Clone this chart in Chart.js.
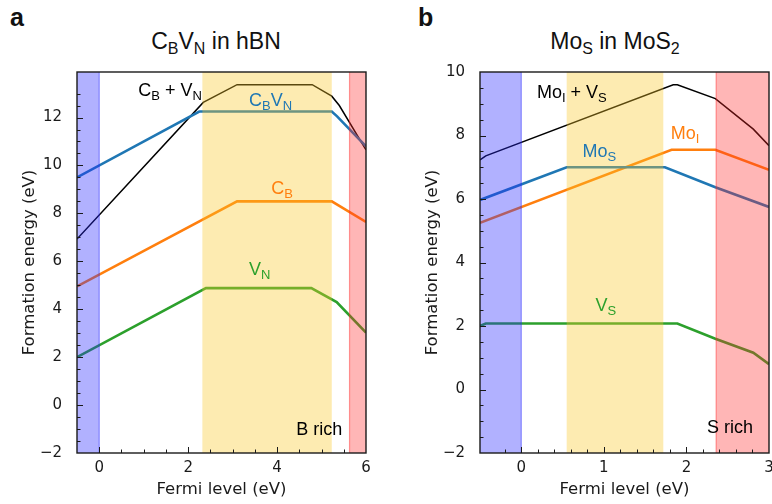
<!DOCTYPE html>
<html>
<head>
<meta charset="utf-8">
<script src="https://cdn.jsdelivr.net/npm/chart.js@4.4.0/dist/chart.umd.min.js"></script>
<style>
  body { margin: 0; width: 772px; height: 504px; overflow: hidden; background: #fff; position: relative;
         font-family: "Liberation Sans", Arial, sans-serif; color: #111; }
  .panel { position: absolute; top: 0; }
  .tag { position: absolute; top: 5px; font-weight: bold; font-size: 25px; line-height: 25px; }
  .ttl { position: absolute; top: 30px; font-size: 23px; line-height: 23px; text-align: center; white-space: nowrap; }
  .ttl span { font-size: 16px; position: relative; top: 5px; }
</style>
</head>
<body>
<div class="tag" style="left:10px">a</div>
<div class="tag" style="left:418px">b</div>
<div class="ttl" style="left:116px;width:200px">C<span>B</span>V<span>N</span> in hBN</div>
<div class="ttl" style="left:515px;width:200px">Mo<span>S</span> in MoS<span>2</span></div>
<canvas id="chartA" class="panel" style="left:0px" width="386" height="504"></canvas>
<canvas id="chartB" class="panel" style="left:386px" width="400" height="504"></canvas>
<script>
// ---- panel a : C_B V_N in hBN ----
const hbnCBVN_x = [-0.5, 2.25, 5.23, 5.35, 6];
const hbnCBVN_y = [9.5, 12.25, 12.25, 12.05, 10.8];
const hbnSum_x = [-0.5, 2.34, 3.1, 4.79, 5.23, 5.4, 6];
const hbnSum_y = [6.93, 12.63, 13.37, 13.37, 12.89, 12.5, 10.65];
const hbnCB_x = [-0.5, 3.1, 5.23, 6];
const hbnCB_y = [4.95, 8.5, 8.5, 7.64];
const hbnVN_x = [-0.5, 2.4, 4.77, 5.34, 6];
const hbnVN_y = [2.0, 4.88, 4.88, 4.3, 3.02];
const hbnBandFrom = [-0.5, 2.32, 5.63];
const hbnBandTo = [0, 5.23, 6];
const hbnLabelText = ['C_{B} + V_{N}', 'C_{B}V_{N}', 'C_{B}', 'V_{N}', 'B rich'];
const hbnLabelX = [0.88, 3.37, 3.87, 3.37, 4.43];
const hbnLabelY = [12.9, 12.5, 8.8, 5.44, -1.23];

// ---- panel b : Mo_S in MoS2 ----
const mosSum_x = [-0.5, -0.43, 1.84, 1.89, 2.35, 2.81, 3];
const mosSum_y = [7.23, 7.36, 9.6, 9.6, 9.16, 8.2, 7.68];
const mosMoS_x = [-0.5, 0.55, 1.74, 2.35, 3];
const mosMoS_y = [5.97, 7.0, 7.0, 6.37, 5.75];
const mosMoI_x = [-0.5, 1.82, 2.35, 3];
const mosMoI_y = [5.25, 7.55, 7.55, 6.92];
const mosVS_x = [-0.5, -0.43, 1.89, 2.35, 2.81, 3];
const mosVS_y = [2.0, 2.08, 2.08, 1.6, 1.16, 0.8];
const mosBandFrom = [-0.5, 0.55, 2.36];
const mosBandTo = [0, 1.72, 3];
const mosLabelText = ['Mo_{I} + V_{S}', 'Mo_{S}', 'Mo_{I}', 'V_{S}', 'S rich'];
const mosLabelX = [0.19, 0.74, 1.81, 0.9, 2.25];
const mosLabelY = [9.19, 7.31, 7.88, 2.46, -1.38];

// styles
const BLUE = '#1f77b4', ORANGE = '#ff7f0e', GREEN = '#2ca02c', BLACK = '#000';
const BAND_FILL = ['rgba(40,40,255,0.36)', 'rgba(250,200,40,0.36)', 'rgba(255,40,40,0.34)'];
const BAND_EDGE = ['rgba(40,40,255,0.45)', null, 'rgba(255,40,40,0.45)'];
const AXIS_COLOR = '#1a1a1a';

function pts(xs, ys) { return xs.map((x, i) => ({ x: x, y: ys[i] })); }

function series(label, xs, ys, color, width) {
  return { label: label, data: pts(xs, ys), borderColor: color, borderWidth: width,
           pointRadius: 0, tension: 0, fill: false };
}

// draw text like "C_{B} + V_{N}" with subscripts
function drawRich(ctx, text, x, y, color) {
  const parts = text.split(/(_\{[^}]*\})/).filter(s => s.length);
  let cx = x;
  ctx.fillStyle = color;
  ctx.textBaseline = 'alphabetic';
  ctx.textAlign = 'left';
  parts.forEach(p => {
    if (p.startsWith('_{')) {
      const s = p.slice(2, -1);
      ctx.font = '13px "Liberation Sans", Arial, sans-serif';
      ctx.fillText(s, cx, y + 4);
      cx += ctx.measureText(s).width;
    } else {
      ctx.font = '18px "Liberation Sans", Arial, sans-serif';
      ctx.fillText(p, cx, y);
      cx += ctx.measureText(p).width;
    }
  });
}

const decoPlugin = {
  id: 'deco',
  afterDatasetsDraw(chart, args, opts) {
    const { ctx, chartArea: a, scales: { x, y } } = chart;
    ctx.save();
    opts.bandFrom.forEach((f, i) => {
      const x0 = x.getPixelForValue(f), x1 = x.getPixelForValue(opts.bandTo[i]);
      ctx.fillStyle = BAND_FILL[i];
      ctx.fillRect(x0, a.top, x1 - x0, a.bottom - a.top);
      if (BAND_EDGE[i]) {
        ctx.strokeStyle = BAND_EDGE[i];
        ctx.lineWidth = 1.2;
        const ex = i === 0 ? x1 : x0;
        ctx.beginPath(); ctx.moveTo(ex, a.top); ctx.lineTo(ex, a.bottom); ctx.stroke();
      }
    });
    ctx.restore();
  },
  afterDraw(chart, args, opts) {
    const { ctx, chartArea: a, scales: { x, y } } = chart;
    ctx.save();
    // labels
    opts.labelText.forEach((t, i) => {
      drawRich(ctx, t, x.getPixelForValue(opts.labelX[i]), y.getPixelForValue(opts.labelY[i]), opts.labelColor[i]);
    });
    // inward ticks
    ctx.strokeStyle = AXIS_COLOR;
    ctx.lineWidth = 1;
    x.ticks.forEach(t => {
      const p = Math.round(x.getPixelForValue(t.value)) + 0.5;
      if (p - a.left < 2 || a.right - p < 2) return;
      const len = t.label !== '' ? 6 : 3.5;
      ctx.beginPath(); ctx.moveTo(p, a.bottom); ctx.lineTo(p, a.bottom - len); ctx.stroke();
    });
    y.ticks.forEach(t => {
      const p = Math.round(y.getPixelForValue(t.value)) + 0.5;
      if (p - a.top < 2 || a.bottom - p < 2) return;
      const len = t.label !== '' ? 6 : 3.5;
      ctx.beginPath(); ctx.moveTo(a.left, p); ctx.lineTo(a.left + len, p); ctx.stroke();
    });
    // frame
    ctx.lineWidth = 1.4;
    ctx.strokeRect(a.left, a.top, a.right - a.left, a.bottom - a.top);
    ctx.restore();
  }
};

function isMultiple(v, m) { return Math.abs(v / m - Math.round(v / m)) < 1e-6; }

function makeChart(id, cfg) {
  const tickFont = { family: 'DejaVu Sans', size: 15 };
  const titleFont = { family: 'DejaVu Sans', size: 16.5 };
  return new Chart(document.getElementById(id), {
    type: 'line',
    data: { datasets: cfg.datasets },
    options: {
      responsive: false,
      devicePixelRatio: 1,
      animation: false,
      layout: { padding: { top: 72, right: cfg.padRight, bottom: 0, left: 0 } },
      plugins: {
        legend: { display: false },
        tooltip: { enabled: false },
        deco: { bandFrom: cfg.bandFrom, bandTo: cfg.bandTo, labelText: cfg.labelText,
                labelX: cfg.labelX, labelY: cfg.labelY, labelColor: cfg.labelColor }
      },
      scales: {
        x: {
          type: 'linear', min: cfg.xMin, max: cfg.xMax,
          grid: { display: false }, border: { display: false },
          ticks: { stepSize: cfg.xStep, autoSkip: false, maxRotation: 0, padding: -2,
                   font: tickFont, color: AXIS_COLOR,
                   callback: v => isMultiple(v, cfg.xMajor) ? String(Math.round(v)) : '' },
          title: { display: true, text: 'Fermi level (eV)', font: titleFont, color: AXIS_COLOR,
                   padding: { top: 0, bottom: 4 } },
          afterFit: s => { s.height = 51; }
        },
        y: {
          type: 'linear', min: cfg.yMin, max: cfg.yMax,
          grid: { display: false }, border: { display: false },
          ticks: { stepSize: 0.5, autoSkip: false, padding: 7, font: tickFont, color: AXIS_COLOR,
                   callback: v => isMultiple(v, 2) ? (v < 0 ? '\u2212' + Math.abs(Math.round(v)) : String(Math.round(v))) : '' },
          title: { display: true, text: 'Formation energy (eV)', font: titleFont, color: AXIS_COLOR,
                   padding: { top: cfg.yTitlePad, bottom: 0 } },
          afterFit: s => { s.width = cfg.yWidth; }
        }
      }
    },
    plugins: [decoPlugin]
  });
}

makeChart('chartA', {
  datasets: [
    series('C_B V_N', hbnCBVN_x, hbnCBVN_y, BLUE, 2.6),
    series('C_B + V_N', hbnSum_x, hbnSum_y, BLACK, 1.5),
    series('C_B', hbnCB_x, hbnCB_y, ORANGE, 2.6),
    series('V_N', hbnVN_x, hbnVN_y, GREEN, 2.6)
  ],
  xMin: -0.5, xMax: 6, xStep: 0.5, xMajor: 2,
  yMin: -2, yMax: 13.9,
  padRight: 20, yWidth: 77, yTitlePad: 20,
  bandFrom: hbnBandFrom, bandTo: hbnBandTo,
  labelText: hbnLabelText, labelX: hbnLabelX, labelY: hbnLabelY,
  labelColor: [BLACK, BLUE, ORANGE, GREEN, BLACK]
});

makeChart('chartB', {
  datasets: [
    series('Mo_I + V_S', mosSum_x, mosSum_y, BLACK, 1.5),
    series('Mo_S', mosMoS_x, mosMoS_y, BLUE, 2.6),
    series('Mo_I', mosMoI_x, mosMoI_y, ORANGE, 2.6),
    series('V_S', mosVS_x, mosVS_y, GREEN, 2.6)
  ],
  xMin: -0.5, xMax: 3, xStep: 0.2, xMajor: 1,
  yMin: -2, yMax: 10,
  padRight: 17, yWidth: 94, yTitlePad: 37,
  bandFrom: mosBandFrom, bandTo: mosBandTo,
  labelText: mosLabelText, labelX: mosLabelX, labelY: mosLabelY,
  labelColor: [BLACK, BLUE, ORANGE, GREEN, BLACK]
});
</script>
</body>
</html>
